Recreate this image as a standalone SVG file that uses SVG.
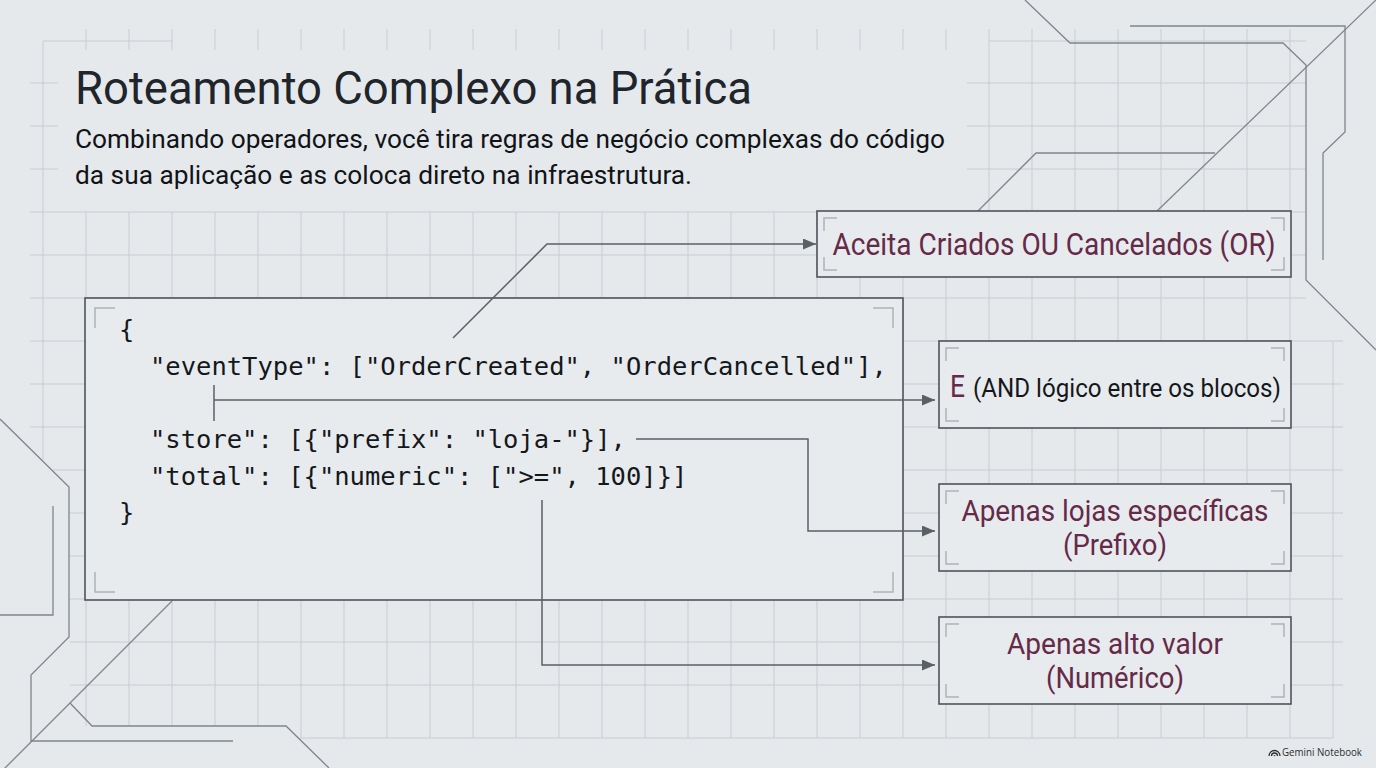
<svg xmlns="http://www.w3.org/2000/svg" width="1376" height="768" viewBox="0 0 1376 768">
<defs>
<style>
.grid{fill:none;stroke:#c8cdd2;stroke-width:1}
.circ{fill:none;stroke:#7f858c;stroke-width:1.3}
.box{fill:#e8ebee;stroke:#4f545a;stroke-width:1.6}
.brk{fill:none;stroke:#aeb3b8;stroke-width:1.5}
.con{fill:none;stroke:#5b6067;stroke-width:1.5}
.code{font-family:"DejaVu Sans Mono","Liberation Mono",monospace;font-size:25.5px;fill:#15181b}
.lbl{font-family:Roboto,"Liberation Sans",sans-serif;fill:#652a48}
.blk{fill:#15181b}
</style>
<marker id="arr" markerUnits="userSpaceOnUse" markerWidth="13" markerHeight="11" refX="13" refY="5.5" orient="auto">
<path d="M0,0 L13,5.5 L0,11 Z" fill="#5b6067"/>
</marker>
</defs>
<rect width="1376" height="768" fill="#e6e9ec"/>
<g id="grid">
<path class="grid" d="M86,212V726 M129,212V726 M172,212V726 M215,212V726 M258,212V726 M301,212V738 M344,212V738 M387,212V738 M430,212V738 M473,212V738 M516,212V738 M559,212V738 M602,212V738 M645,212V738 M688,212V738 M731,212V738 M774,212V738 M817,212V738 M860,212V738 M903,212V738 M946,212V738 M989,29V738 M1032,29V738 M1075,29V738 M1118,29V738 M1161,29V738 M1204,29V738 M1247,29V738 M1290,29V738 M1333,341V738 M43,41V460"/>
<path class="grid" d="M86,29V50 M129,29V50 M172,29V50 M215,29V50 M258,29V50 M301,29V50 M344,29V50 M387,29V50 M430,29V50 M473,29V50 M516,29V50 M559,29V50 M602,29V50 M645,29V50 M688,29V50 M731,29V50 M774,29V50 M817,29V50 M860,29V50 M903,29V50 M946,29V50"/>
<path class="grid" d="M43,41H172 M30,83H58 M30,126H58 M30,169H58 M989,41H1306 M967,83H1306 M967,126H1306 M967,169H1306 M30,212H1306 M30,255H1306 M30,298H1306 M30,341H1343 M30,384H1343 M30,427H1343 M53,470H1343 M70,513H1343 M70,556H1343 M70,599H1343 M70,642H1343 M70,685H1343 M300,738H1333"/>
</g>
<g id="circuits">
<path class="circ" d="M1025,0 L1070,43 L1283,43 L1306,65 L1306,280 L1376,350"/>
<path class="circ" d="M1130,26 L1345,26 L1345,132 L1323,153 L1323,260"/>
<path class="circ" d="M1377,-1 L1157,211"/>
<path class="circ" d="M978,211 L1036,153 L1215,153"/>
<path class="circ" d="M0,419 L69,487 L69,637 L31,675 L31,741 L233,741"/>
<path class="circ" d="M0,615 L53,615 L53,506"/>
<path class="circ" d="M172,601 L0,773"/>
<path class="circ" d="M70,703 L92,726 L286,726 L329,768"/>
</g>
<g id="title">
<text x="75" y="104" font-family="Roboto,'Liberation Sans',sans-serif" font-size="46" fill="#20252b" textLength="677" lengthAdjust="spacingAndGlyphs">Roteamento Complexo na Prática</text>
<text x="75" y="148" font-family="Roboto,'Liberation Sans',sans-serif" font-size="26" fill="#111417" textLength="870" lengthAdjust="spacingAndGlyphs">Combinando operadores, você tira regras de negócio complexas do código</text>
<text x="75" y="184" font-family="Roboto,'Liberation Sans',sans-serif" font-size="26" fill="#111417" textLength="617" lengthAdjust="spacingAndGlyphs">da sua aplicação e as coloca direto na infraestrutura.</text>
</g>
<g id="code-box">
<rect class="box" x="85" y="298" width="818" height="302"/>
<path class="brk" d="M95,328V308H115 M873,308H893V328 M95,572V592H115 M873,592H893V572"/>
<text class="code" x="119" y="338">{</text>
<text class="code" x="150" y="375">"eventType": ["OrderCreated", "OrderCancelled"],</text>
<text class="code" x="150" y="448">"store": [{"prefix": "loja-"}],</text>
<text class="code" x="150" y="485">"total": [{"numeric": ["&gt;=", 100]}]</text>
<text class="code" x="119" y="521">}</text>
</g>
<g id="connectors">
<path class="con" d="M453,338 L547,244 H816" marker-end="url(#arr)"/>
<path class="con" d="M214,385 V421"/>
<path class="con" d="M214,400 H935" marker-end="url(#arr)"/>
<path class="con" d="M636,439 H808 V531 H935" marker-end="url(#arr)"/>
<path class="con" d="M542,500 V665 H935" marker-end="url(#arr)"/>
</g>
<g id="node-or">
<rect class="box" x="817" y="211" width="474" height="66"/>
<path class="brk" d="M824,231V218H837 M1271,218H1284V231 M824,257V270H837 M1271,270H1284V257"/>
<text class="lbl" x="1054" y="255" font-size="31" text-anchor="middle" textLength="443" lengthAdjust="spacingAndGlyphs">Aceita Criados OU Cancelados (OR)</text>
</g>
<g id="node-and">
<rect class="box" x="939" y="341" width="352" height="87"/>
<path class="brk" d="M946,361V348H959 M1271,348H1284V361 M946,408V421H959 M1271,421H1284V408"/>
<text class="lbl" x="950" y="397" font-size="32" textLength="15" lengthAdjust="spacingAndGlyphs">E</text>
<text class="lbl blk" x="973" y="397" font-size="26" textLength="308" lengthAdjust="spacingAndGlyphs">(AND lógico entre os blocos)</text>
</g>
<g id="node-prefix">
<rect class="box" x="939" y="484" width="352" height="87"/>
<path class="brk" d="M946,504V491H959 M1271,491H1284V504 M946,551V564H959 M1271,564H1284V551"/>
<text class="lbl" x="1115" y="521" font-size="29.5" text-anchor="middle" textLength="307" lengthAdjust="spacingAndGlyphs">Apenas lojas específicas</text>
<text class="lbl" x="1115" y="555" font-size="29.5" text-anchor="middle" textLength="104" lengthAdjust="spacingAndGlyphs">(Prefixo)</text>
</g>
<g id="node-numeric">
<rect class="box" x="939" y="617" width="352" height="87"/>
<path class="brk" d="M946,637V624H959 M1271,624H1284V637 M946,684V697H959 M1271,697H1284V684"/>
<text class="lbl" x="1115" y="654" font-size="29.5" text-anchor="middle" textLength="216" lengthAdjust="spacingAndGlyphs">Apenas alto valor</text>
<text class="lbl" x="1115" y="688" font-size="29.5" text-anchor="middle" textLength="138" lengthAdjust="spacingAndGlyphs">(Numérico)</text>
</g>
<g id="watermark">
<path d="M1269,756 A5.5,5.5 0 0 1 1280,756 M1271.5,756 A3,3 0 0 1 1277.5,756 M1274,756 A0.6,0.6 0 0 1 1275,756" fill="none" stroke="#2a2d31" stroke-width="1.3"/>
<text x="1282" y="756" font-family="'Open Sans','Liberation Sans',sans-serif" font-size="10.5" fill="#2a2d31" textLength="80" lengthAdjust="spacingAndGlyphs">Gemini Notebook</text>
</g>
</svg>
